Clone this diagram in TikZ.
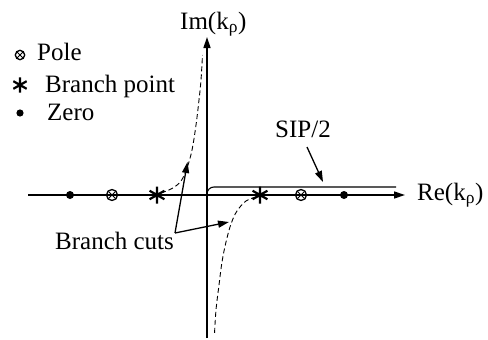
\documentclass[tikz,border=0pt]{standalone}
\usepackage{fontspec}
\setmainfont{Liberation Serif}
\usetikzlibrary{arrows.meta}
\tikzset{
  lbl/.style={anchor=base west,inner sep=0pt,font=\fontsize{25}{30}\selectfont},
  axisline/.style={line width=1.4pt,-{Triangle[length=11pt,width=7pt]}},
  ptr/.style={line width=1.3pt,-{Triangle[length=11pt,width=7pt]}},
  cutline/.style={line width=0.9pt,dash pattern=on 5pt off 3pt},
  sipline/.style={line width=1.1pt},
  zeropic/.pic={\fill (0,0) circle (4pt);},
  polepic/.pic={\draw[line width=1.3pt] (0,0) circle (5.5pt);
                \draw[line width=1pt] (-3.3,-3.3)--(3.3,3.3) (-3.3,3.3)--(3.3,-3.3);},
  bppic/.pic={\draw[line width=2.2pt] (0,-8.5)--(0,8.5) (-7.4,-4.25)--(7.4,4.25) (-7.4,4.25)--(7.4,-4.25);}
}
\begin{document}
\begin{tikzpicture}[x=1pt,y=-1pt]
\useasboundingbox (0,0) rectangle (488,340);

% axes
\coordinate (xl) at (28,195);
\coordinate (xr) at (405,195);
\coordinate (yb) at (207,338);
\coordinate (yt) at (207,37);
\draw[axisline] (xl) -- (xr);
\draw[axisline] (yb) -- (yt);

% axis labels
\node[lbl] (im) at (180,29) {Im(k\textsubscript{ρ})};
\node[lbl] (re) at (417,200) {Re(k\textsubscript{ρ})};

% SIP/2 contour
\coordinate (s0) at (207,195);
\coordinate (s1) at (396,187);
\draw[sipline,rounded corners=7pt] (s0) |- (s1);
\node[lbl] (sip) at (275,137) {SIP/2};
\coordinate (sipa) at (307,147);
\coordinate (sipb) at (323,182);
\draw[ptr] (sipa) -- (sipb);

% branch cuts (dashed)
\draw[cutline] plot[smooth,tension=0.6] coordinates {(161,193) (172,188.5) (181,181) (187,168) (192,150) (196,125) (199,100) (201,80) (202.5,55)};
\draw[cutline] plot[smooth,tension=0.6] coordinates {(256,197) (246,201) (237,211) (231,224) (226,242) (222,262) (219,285) (216,310) (214.5,334)};

% markers on axis
\pic at (70,195) {zeropic};
\pic at (112,195) {polepic};
\pic at (157,195) {bppic};
\pic at (260,195) {bppic};
\pic at (301,195) {polepic};
\pic at (344,195) {zeropic};

% branch cuts label
\node[lbl] (bc) at (55,249) {Branch cuts};
\coordinate (bca) at (175,233);
\coordinate (bcl) at (187.5,162);
\coordinate (bcr) at (229,222);
\draw[ptr] (bca) -- (bcl);
\draw[ptr] (bca) -- (bcr);

% legend
\pic[scale=0.85] at (20,55) {polepic};
\pic[scale=0.9] at (20,85) {bppic};
\pic[scale=0.9] at (20,113) {zeropic};
\node[lbl] (lpole) at (37,60) {Pole};
\node[lbl] (lbp) at (45,92) {Branch point};
\node[lbl] (lzero) at (47,120) {Zero};
\end{tikzpicture}
\end{document}
